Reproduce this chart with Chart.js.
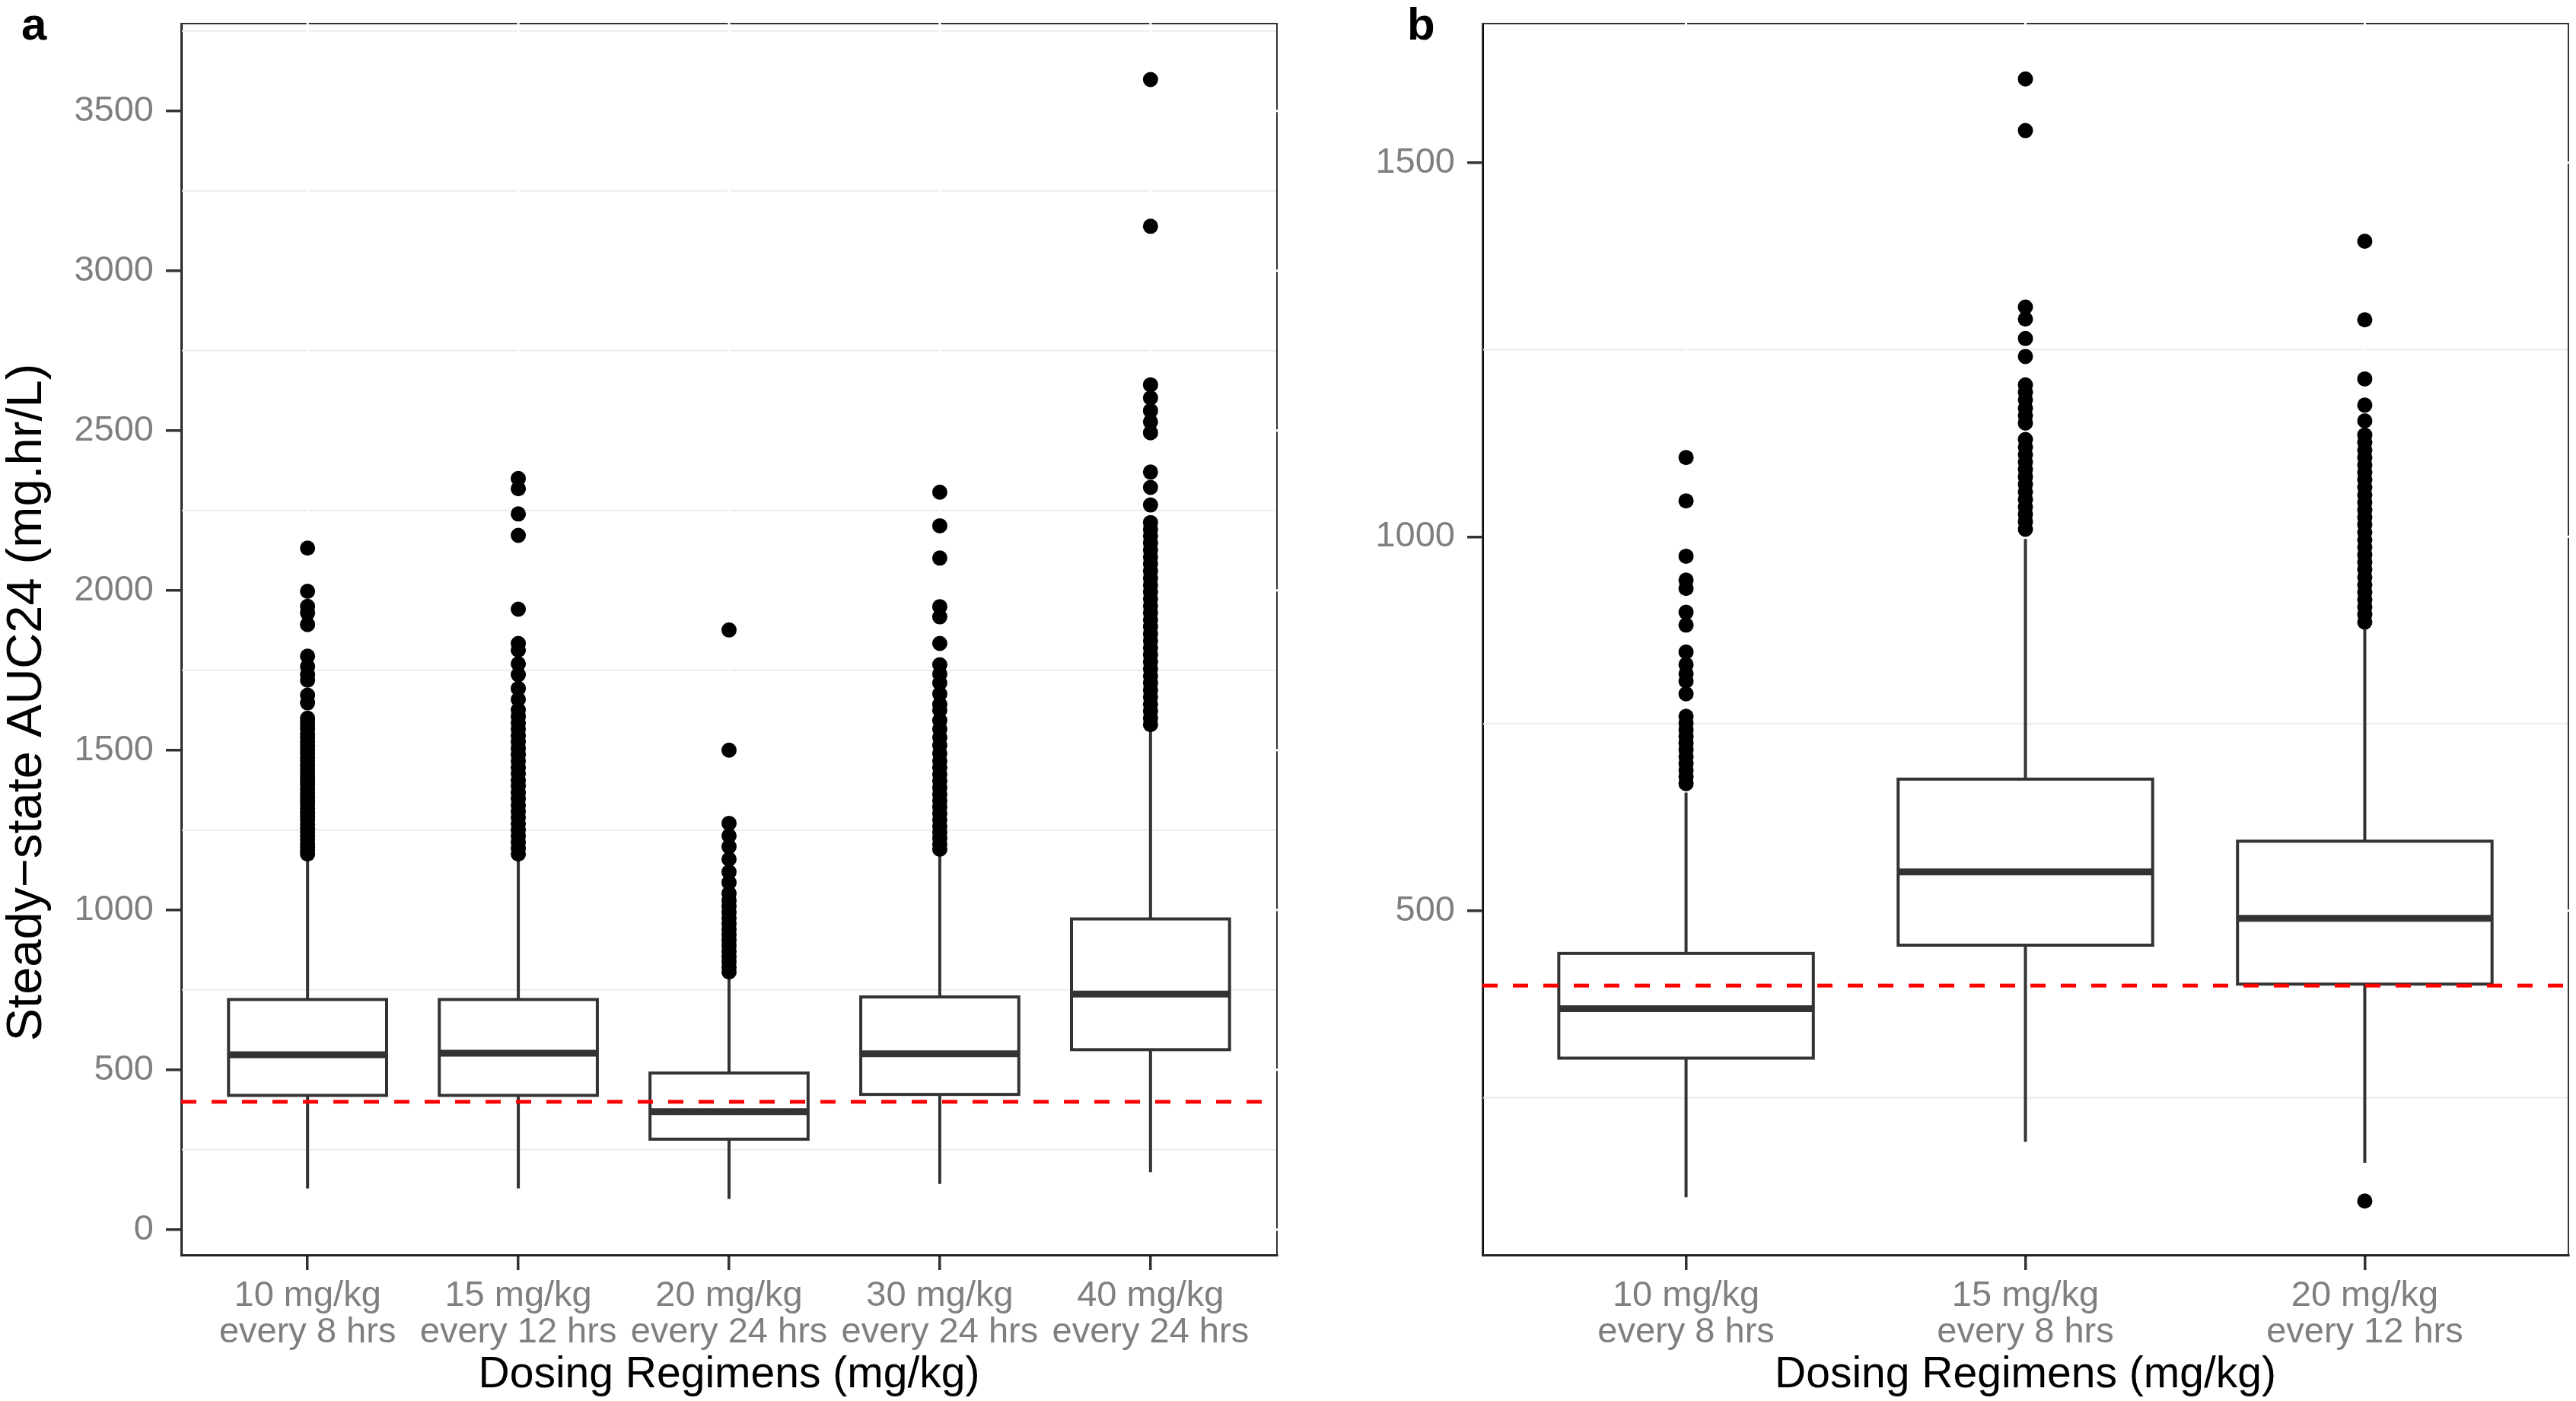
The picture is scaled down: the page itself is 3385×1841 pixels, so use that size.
<!DOCTYPE html>
<html>
<head>
<meta charset="utf-8">
<script src="https://cdn.jsdelivr.net/npm/chart.js@4.4.1/dist/chart.umd.min.js"></script>
<style>
html,body{margin:0;padding:0;background:#ffffff;}
#wrap{position:relative;width:3385px;height:1841px;overflow:hidden;background:#fff;}
canvas{position:absolute;top:0;}
</style>
</head>
<body>
<div id="wrap">
<canvas id="cA" width="1700" height="1841" style="left:0px;width:1700px;height:1841px"></canvas>
<canvas id="cB" width="1685" height="1841" style="left:1700px;width:1685px;height:1841px"></canvas>
</div>
<script>
// ---------------- Panel a data ----------------
const regimensA = [["10 mg/kg","every 8 hrs"],["15 mg/kg","every 12 hrs"],["20 mg/kg","every 24 hrs"],["30 mg/kg","every 24 hrs"],["40 mg/kg","every 24 hrs"]];
const lowerWhiskerA = [129, 129, 96, 143, 180];
const q1A = [420, 420, 283, 423, 563];
const medianA = [547, 552, 369, 550, 737];
const q3A = [720, 720, 490, 728, 972];
const upperWhiskerA = [1165, 1165, 795, 1180, 1572];
const outliersA_10q8 = [2132,1997,1950,1929,1893,1794,1762,1736,1719,1672,1648,1600,1590,1578,1566,1551,1540,1527,1515,1502,1490,1477,1466,1452,1440,1428,1415,1403,1391,1378,1366,1353,1341,1330,1318,1305,1293,1281,1268,1256,1244,1232,1220,1208,1196,1185,1175];
const outliersA_15q12 = [2350,2318,2239,2172,1941,1834,1813,1770,1736,1693,1659,1626,1605,1585,1566,1545,1526,1505,1486,1466,1445,1427,1406,1388,1367,1348,1328,1309,1290,1270,1250,1231,1212,1193,1175];
const outliersA_20q24 = [1876,1500,1271,1232,1198,1159,1119,1086,1052,1030,1012,993,975,957,940,922,905,888,871,854,838,821,806];
const outliersA_30q24 = [2307,2202,2101,1949,1917,1834,1767,1738,1710,1676,1643,1625,1593,1566,1540,1515,1490,1466,1446,1425,1404,1383,1362,1342,1322,1302,1282,1262,1243,1224,1206,1190];
const outliersA_40q24 = [3598,3139,2643,2602,2562,2527,2493,2370,2322,2267,2212,2190,2170,2148,2126,2104,2083,2060,2038,2016,1995,1973,1951,1930,1908,1886,1864,1842,1820,1798,1776,1754,1732,1710,1688,1666,1644,1622,1600,1580];
const yTicksA = [0, 500, 1000, 1500, 2000, 2500, 3000, 3500];
const yMinorA = [250, 750, 1250, 1750, 2250, 2750, 3250, 3750];

// ---------------- Panel b data ----------------
const regimensB = [["10 mg/kg","every 8 hrs"],["15 mg/kg","every 8 hrs"],["20 mg/kg","every 12 hrs"]];
const lowerWhiskerB = [117, 191, 163];
const q1B = [303, 454, 402];
const medianB = [369, 552, 490];
const q3B = [443, 676, 593];
const upperWhiskerB = [658, 997, 876];
const outliersB_10q8 = [1106,1048,974,942,931,899,882,846,829,817,807,790,760,751,742,733,724,715,706,697,688,679,670];
const outliersB_15q8 = [1612,1543,1307,1291,1265,1241,1203,1193,1183,1172,1162,1152,1130,1120,1110,1100,1090,1080,1070,1060,1050,1040,1030,1020,1010];
const outliersB_20q12 = [1395,1290,1211,1176,1155,1136,1126,1116,1106,1096,1086,1076,1066,1056,1046,1036,1026,1016,1006,996,986,976,966,956,946,936,926,916,906,896,886,112];
const yTicksB = [500, 1000, 1500];
const yMinorB = [250, 750, 1250];

const targetAUC = 400;
const yTitle = "Steady\u2212state AUC24 (mg.hr/L)";
const xTitle = "Dosing Regimens (mg/kg)";

// ---------------- Chart builder ----------------
const FONT = '"Liberation Sans", Arial, Helvetica, sans-serif';

function makePanel(canvasId, p) {
  const W = p.width, H = 1841;
  const outlierPts = [];
  p.outliers.forEach((arr, i) => arr.forEach(v => outlierPts.push({x: i + 1, y: v})));
  const n = p.cats.length;
  const xMin = 0.4, xMax = n + 0.6;

  const panelPlugin = {
    id: 'panel' + canvasId,
    beforeDatasetsDraw(chart) {
      const {ctx, chartArea: a, scales: {x, y}} = chart;
      ctx.save();
      // minor grid lines
      ctx.strokeStyle = '#ebebeb';
      ctx.lineWidth = 2;
      p.minor.forEach(v => {
        const py = y.getPixelForValue(v);
        ctx.beginPath(); ctx.moveTo(a.left, py); ctx.lineTo(a.right, py); ctx.stroke();
      });
      // panel border
      ctx.strokeStyle = '#333333';
      ctx.lineWidth = 2;
      ctx.strokeRect(a.left, a.top, a.right - a.left, a.bottom - a.top);
      // white major grid lines (cut the border like the original)
      ctx.strokeStyle = '#ffffff';
      ctx.lineWidth = 3;
      p.yTicks.forEach(v => {
        const py = y.getPixelForValue(v);
        ctx.beginPath(); ctx.moveTo(a.left + 3, py); ctx.lineTo(a.right + 2, py); ctx.stroke();
      });
      for (let i = 1; i <= n; i++) {
        const px = x.getPixelForValue(i);
        ctx.beginPath(); ctx.moveTo(px, a.top - 2); ctx.lineTo(px, a.bottom - 3); ctx.stroke();
      }
      // boxplots
      const hw = 0.375;
      for (let i = 0; i < n; i++) {
        const c = i + 1;
        const xl = x.getPixelForValue(c - hw), xr = x.getPixelForValue(c + hw), xc = x.getPixelForValue(c);
        const yLo = y.getPixelForValue(p.lo[i]), yQ1 = y.getPixelForValue(p.q1[i]);
        const yMed = y.getPixelForValue(p.med[i]), yQ3 = y.getPixelForValue(p.q3[i]);
        const yHi = y.getPixelForValue(p.hi[i]);
        ctx.strokeStyle = '#333333';
        ctx.lineWidth = 4;
        ctx.lineCap = 'butt';
        ctx.beginPath(); ctx.moveTo(xc, yQ3); ctx.lineTo(xc, yHi); ctx.stroke();
        ctx.beginPath(); ctx.moveTo(xc, yQ1); ctx.lineTo(xc, yLo); ctx.stroke();
        ctx.fillStyle = '#ffffff';
        ctx.fillRect(xl, yQ3, xr - xl, yQ1 - yQ3);
        ctx.lineJoin = 'miter';
        ctx.strokeRect(xl, yQ3, xr - xl, yQ1 - yQ3);
        ctx.lineWidth = 9;
        ctx.beginPath(); ctx.moveTo(xl, yMed); ctx.lineTo(xr, yMed); ctx.stroke();
      }
      ctx.restore();
    },
    afterDraw(chart) {
      const ctx = chart.ctx;
      ctx.save();
      ctx.fillStyle = '#000000';
      ctx.font = 'bold 60px ' + FONT;
      ctx.textAlign = 'left';
      ctx.textBaseline = 'alphabetic';
      ctx.fillText(p.letter, p.letterX, 52);
      if (p.yTitle) {
        ctx.translate(54, 923);
        ctx.rotate(-Math.PI / 2);
        ctx.font = '65px ' + FONT;
        ctx.textAlign = 'center';
        ctx.fillText(p.yTitle, 0, 0);
      }
      ctx.restore();
    }
  };

  return new Chart(document.getElementById(canvasId), {
    type: 'scatter',
    data: {
      datasets: [
        {
          type: 'line',
          data: [{x: xMin, y: targetAUC}, {x: xMax, y: targetAUC}],
          borderColor: '#ff0000',
          borderWidth: 5,
          borderDash: [20, 20],
          pointRadius: 0,
          fill: false,
          order: 0
        },
        {
          type: 'scatter',
          data: outlierPts,
          backgroundColor: '#000000',
          borderWidth: 0,
          pointRadius: 10,
          pointHoverRadius: 10,
          order: 1
        }
      ]
    },
    options: {
      responsive: false,
      animation: false,
      devicePixelRatio: 1,
      events: [],
      layout: {padding: {left: 0, top: p.plotTop, right: W - p.plotRight, bottom: 0}},
      plugins: {legend: {display: false}, tooltip: {enabled: false}},
      scales: {
        x: {
          type: 'linear',
          min: xMin,
          max: xMax,
          afterBuildTicks: (s) => { s.ticks = p.cats.map((c, i) => ({value: i + 1})); },
          afterFit: (s) => { s.height = H - p.plotBottom; s.paddingLeft = 0; s.paddingRight = 0; s.paddingTop = 0; s.paddingBottom = 0; },
          ticks: {
            autoSkip: false, maxRotation: 0, minRotation: 0,
            color: '#7f7f7f',
            padding: 10,
            font: {family: FONT, size: 47, lineHeight: 1.02},
            callback: (v) => p.cats[Math.round(v) - 1]
          },
          grid: {display: true, drawOnChartArea: false, drawTicks: true, tickLength: 20, color: '#333333', lineWidth: 3.5},
          border: {display: true, color: '#000000', width: 3},
          title: {display: true, text: xTitle, color: '#000000', font: {family: FONT, size: 57}, padding: {top: 0, bottom: 0}}
        },
        y: {
          type: 'linear',
          min: p.yMin,
          max: p.yMax,
          afterBuildTicks: (s) => { s.ticks = p.yTicks.map(v => ({value: v})); },
          afterFit: (s) => { s.width = p.plotLeft; s.paddingLeft = 0; s.paddingRight = 0; s.paddingTop = 0; s.paddingBottom = 0; },
          ticks: {
            color: '#7f7f7f',
            padding: 16,
            font: {family: FONT, size: 47},
            callback: (v) => String(v)
          },
          grid: {display: true, drawOnChartArea: false, drawTicks: true, tickLength: 20, color: '#333333', lineWidth: 3.5},
          border: {display: true, color: '#000000', width: 3},
          title: {display: false}
        }
      }
    },
    plugins: [panelPlugin]
  });
}

makePanel('cA', {
  width: 1700, plotLeft: 238, plotRight: 1678, plotTop: 31, plotBottom: 1649,
  cats: regimensA, lo: lowerWhiskerA, q1: q1A, med: medianA, q3: q3A, hi: upperWhiskerA,
  outliers: [outliersA_10q8, outliersA_15q12, outliersA_20q24, outliersA_30q24, outliersA_40q24],
  yMin: -79, yMax: 3773, yTicks: yTicksA, minor: yMinorA,
  letter: 'a', letterX: 28, yTitle: yTitle
});

makePanel('cB', {
  width: 1685, plotLeft: 248, plotRight: 1680, plotTop: 31, plotBottom: 1649,
  cats: regimensB, lo: lowerWhiskerB, q1: q1B, med: medianB, q3: q3B, hi: upperWhiskerB,
  outliers: [outliersB_10q8, outliersB_15q8, outliersB_20q12],
  yMin: 40, yMax: 1686, yTicks: yTicksB, minor: yMinorB,
  letter: 'b', letterX: 149, yTitle: null
});
</script>
</body>
</html>
